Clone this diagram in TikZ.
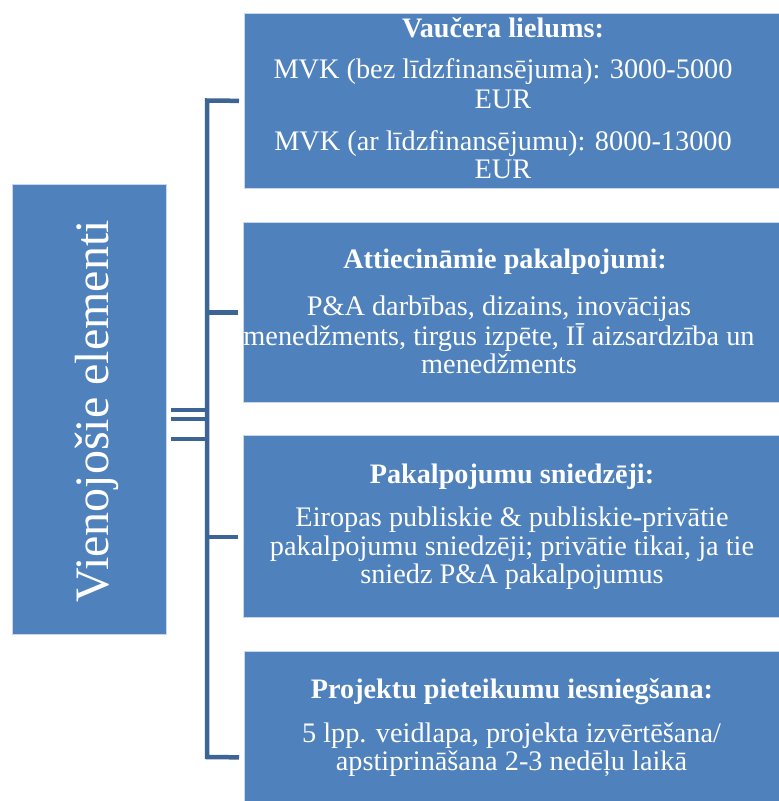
\documentclass[tikz,border=0pt]{standalone}
\usepackage{fontspec}
\setmainfont{Liberation Serif}
\definecolor{boxblue}{RGB}{79,129,189}
\definecolor{linkblue}{RGB}{60,100,150}
\definecolor{edgeblue}{RGB}{200,215,235}
\begin{document}
\begin{tikzpicture}[x=1pt,y=-1pt,
  panel/.style={rectangle, fill=boxblue, draw=edgeblue, line width=0.8pt, inner sep=0pt, anchor=north west},
  head/.style={font=\bfseries\fontsize{28.2}{30}\selectfont, text=white, anchor=base, inner sep=0pt},
  body/.style={font=\fontsize{28.3}{30}\selectfont, text=white, anchor=base, inner sep=0pt},
  link/.style={draw=linkblue, line width=4.5pt}]
\useasboundingbox (0,0) rectangle (779,801);
\clip (0,0) rectangle (779,801);

% boxes
\node[panel, minimum width=154pt, minimum height=450pt] (lb) at (12,184) {};
\node[panel, minimum width=536pt, minimum height=175pt] (b1) at (244,13) {};
\node[panel, minimum width=537pt, minimum height=180pt] (b2) at (243,222) {};
\node[panel, minimum width=537pt, minimum height=182pt] (b3) at (243,435) {};
\node[panel, minimum width=536pt, minimum height=212pt] (b4) at (244,651) {};

% left label
\node[rotate=90, anchor=base, inner sep=0pt, text=white, font=\fontsize{48}{50}\selectfont] (ltxt) at (108,411.5) {Vienojošie elementi};

% box 1
\node[head] (h1) at (503,37) {Vaučera lielums:};
\node[body] (t11) at (503,78) {MVK (bez līdzfinansējuma): 3000-5000};
\node[body] (t12) at (503,108) {EUR};
\node[body] (t13) at (503,150) {MVK (ar līdzfinansējumu): 8000-13000};
\node[body] (t14) at (503,178) {EUR};

% box 2
\node[head] (h2) at (505,268) {Attiecināmie pakalpojumi:};
\node[body] (t21) at (499,315) {P\&A darbības, dizains, inovācijas};
\node[body] (t22) at (499,345) {menedžments, tirgus izpēte, IĪ aizsardzība un};
\node[body] (t23) at (499,373) {menedžments};

% box 3
\node[head] (h3) at (512,483) {Pakalpojumu sniedzēji:};
\node[body] (t31) at (512,526) {Eiropas publiskie \& publiskie-privātie};
\node[body] (t32) at (512,555) {pakalpojumu sniedzēji; privātie tikai, ja tie};
\node[body] (t33) at (512,583) {sniedz P\&A pakalpojumus};

% box 4
\node[head] (h4) at (512,698) {Projektu pieteikumu iesniegšana:};
\node[body] (t41) at (511.5,742) {5 lpp. veidlapa, projekta izvērtēšana/};
\node[body] (t42) at (511.5,770) {apstiprināšana 2-3 nedēļu laikā};

% connectors
\coordinate (sp1) at (207,100.5);
\coordinate (sp4) at (207,757);
\coordinate (sp3) at (207,537);
\draw[link, shorten <=5pt, shorten >=5pt] (b1.west) -- (sp1) -- (sp4) -- (b4.west);
\draw[link, shorten >=5pt] (b2.west -| sp1) -- (b2.west);
\draw[link, shorten >=5pt] (sp3) -- (sp3 -| b3.west);

% short marks left of the spine
\coordinate (m1a) at (171,410); \coordinate (m1b) at (205,410);
\coordinate (m2a) at (171,419); \coordinate (m2b) at (205,419);
\coordinate (m3a) at (171,439); \coordinate (m3b) at (205,439);
\draw[link, line width=4pt] (m1a) -- (m1b);
\draw[link, line width=4pt] (m2a) -- (m2b);
\draw[link, line width=4pt] (m3a) -- (m3b);
\end{tikzpicture}
\end{document}
